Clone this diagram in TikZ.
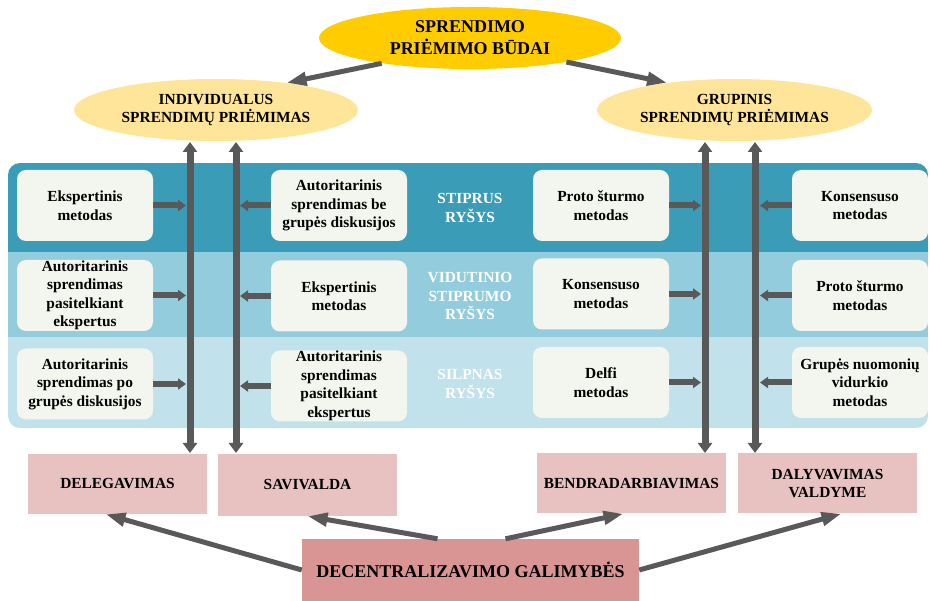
\documentclass[tikz,border=0pt]{standalone}
\usepackage{fontspec}
\setmainfont{Liberation Serif}
\usetikzlibrary{shapes.geometric,arrows.meta}

\definecolor{gold}{HTML}{FFCC00}
\definecolor{paleyellow}{HTML}{FFE599}
\definecolor{bandA}{HTML}{3A9CB7}
\definecolor{bandB}{HTML}{93CDDD}
\definecolor{bandC}{HTML}{C2E2EB}
\definecolor{boxfill}{HTML}{F3F6EE}
\definecolor{pinkbox}{HTML}{E8C1C1}
\definecolor{rosebox}{HTML}{D99594}
\definecolor{arrowgray}{HTML}{595959}

\begin{document}
\begin{tikzpicture}[x=1pt,y=-1pt,
	every node/.style={font=\fontsize{15.4}{18.5}\selectfont\bfseries, align=center, inner sep=0pt},
	oval/.style={ellipse, fill=paleyellow},
	method/.style={rounded corners=9pt, fill=boxfill, minimum width=136pt, minimum height=71pt},
	outcome/.style={fill=pinkbox, minimum height=60pt},
	strength/.style={text=white},
	bigarrow/.style={draw=arrowgray, line width=5pt, -{Triangle[length=20pt,width=13pt]}},
	vbar/.style={draw=arrowgray, line width=7pt, {Triangle[length=10pt,width=14pt]}-{Triangle[length=10pt,width=14pt]}},
	sidearrow/.style={draw=arrowgray, line width=6pt, -{Triangle[length=8pt,width=11pt]}}]

	\useasboundingbox (0,0) rectangle (930,601);

	% bands
	\begin{scope}
		\clip[rounded corners=12pt] (8,163) rectangle (928,428);
		\fill[bandA] (8,163) rectangle (928,252);
		\fill[bandB] (8,252) rectangle (928,337);
		\fill[bandC] (8,337) rectangle (928,428);
	\end{scope}

	% band labels
	\node[strength] (strong) at (470,208) {STIPRUS\\RYŠYS};
	\node[strength] (medium) at (470,296) {VIDUTINIO\\STIPRUMO\\RYŠYS};
	\node[strength] (weak) at (470,384) {SILPNAS\\RYŠYS};

	% ellipses
	\node[ellipse, fill=gold, minimum width=302pt, minimum height=62pt,
		font=\fontsize{18}{22}\selectfont\bfseries] (ways) at (470,38) {SPRENDIMO\\PRIĖMIMO BŪDAI};
	\node[oval, minimum width=284pt, minimum height=62pt] (indiv) at (216,110) {INDIVIDUALUS\\SPRENDIMŲ PRIĖMIMAS};
	\node[oval, minimum width=275pt, minimum height=62pt] (group) at (734.5,110) {GRUPINIS\\SPRENDIMŲ PRIĖMIMAS};

	% methods, individual side
	\node[method] (ex1) at (85,205.5) {Ekspertinis\\metodas};
	\node[method] (at1) at (85,295.5) {Autoritarinis\\sprendimas\\pasitelkiant\\ekspertus};
	\node[method] (at2) at (85,384) {Autoritarinis\\sprendimas po\\grupės diskusijos};
	\node[method] (at3) at (339,205.5) {Autoritarinis\\sprendimas be\\grupės diskusijos};
	\node[method] (ex2) at (339,296) {Ekspertinis\\metodas};
	\node[method] (at4) at (339,386) {Autoritarinis\\sprendimas\\pasitelkiant\\ekspertus};

	% methods, group side
	\node[method] (pr1) at (601,205.5) {Proto šturmo\\metodas};
	\node[method] (ko1) at (601,294) {Konsensuso\\metodas};
	\node[method] (de1) at (601,382.5) {Delfi\\metodas};
	\node[method] (ko2) at (860,205.5) {Konsensuso\\metodas};
	\node[method] (pr2) at (860,295.5) {Proto šturmo\\metodas};
	\node[method] (gr1) at (860,382.5) {Grupės nuomonių\\vidurkio\\metodas};

	% outcomes
	\node[outcome, minimum width=179pt] (deleg) at (117.5,484) {DELEGAVIMAS};
	\node[outcome, minimum width=179pt, minimum height=62pt] (selfgov) at (307.5,485) {SAVIVALDA};
	\node[outcome, minimum width=189pt] (collab) at (631.5,483.5) {BENDRADARBIAVIMAS};
	\node[outcome, minimum width=179pt] (partic) at (827.5,483.5) {DALYVAVIMAS\\VALDYME};
	\node[fill=rosebox, minimum width=337pt, minimum height=62pt,
		font=\fontsize{18}{22}\selectfont\bfseries] (decent) at (470.5,570) {DECENTRALIZAVIMO GALIMYBĖS};

	% bar ends
	\coordinate (b1t) at (190,142);
	\coordinate (b1b) at (190,453);
	\coordinate (b2t) at (236,142);
	\coordinate (b2b) at (236,453);
	\coordinate (b3t) at (705,142);
	\coordinate (b3b) at (705,453);
	\coordinate (b4t) at (755,142);
	\coordinate (b4b) at (755,453);

	% top arrows
	\draw[bigarrow] (ways.196) -- (indiv.21);
	\draw[bigarrow] (ways.346) -- (group.158);

	% bars
	\draw[vbar] (b1b) -- (b1t);
	\draw[vbar] (b2b) -- (b2t);
	\draw[vbar] (b3b) -- (b3t);
	\draw[vbar] (b4b) -- (b4t);

	% side arrows
	\foreach \n in {ex1,at1,at2}
		\draw[sidearrow, shorten >=4pt] (\n.east) -- (\n.east -| b1t);
	\foreach \n in {at3,ex2,at4}
		\draw[sidearrow, shorten >=4pt] (\n.west) -- (\n.west -| b2t);
	\foreach \n in {pr1,ko1,de1}
		\draw[sidearrow, shorten >=4pt] (\n.east) -- (\n.east -| b3t);
	\foreach \n in {ko2,pr2,gr1}
		\draw[sidearrow, shorten >=5pt] (\n.west) -- (\n.west -| b4t);

	% bottom arrows
	\draw[bigarrow] (decent.west) -- ([xshift=-12pt]deleg.south);
	\draw[bigarrow] ([xshift=-33pt]decent.north) -- (selfgov.south);
	\draw[bigarrow] ([xshift=35pt]decent.north) -- ([xshift=-8pt]collab.south);
	\draw[bigarrow] (decent.east) -- ([xshift=14pt]partic.south);

\end{tikzpicture}
\end{document}
